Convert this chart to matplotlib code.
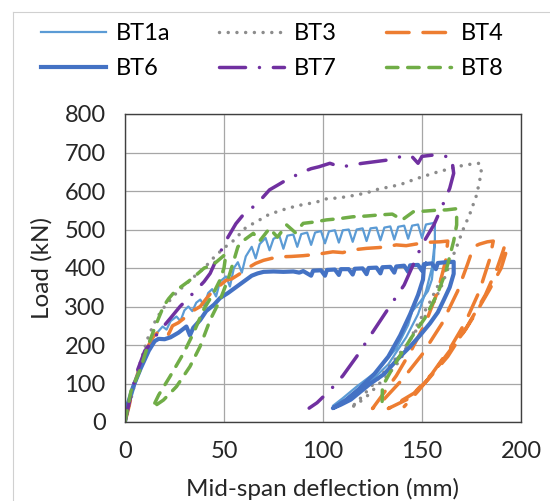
import matplotlib
matplotlib.use("Agg")
import matplotlib.pyplot as plt
from matplotlib.lines import Line2D

plt.rcParams['font.family'] = ['Lato', 'DejaVu Sans']

# ---- data (deflection mm, load kN) ----
bt1a_x = [0, 3, 7, 11, 15, 19, 21, 23, 26, 28, 30, 32, 34, 36, 38, 40, 42, 44, 46, 48, 51, 53, 55, 57, 59,
          61, 64, 66, 68, 71, 73, 75, 78, 80, 82, 85, 87, 89, 92, 94, 96, 99, 101, 103, 106, 108, 110, 113,
          115, 117, 120, 122, 124, 127, 129, 131, 134, 136, 138, 141, 143, 145, 148, 150, 152, 155, 156.5,
          156.5, 156, 155, 153, 149, 145, 143, 137, 127, 117, 110, 105,
          112, 122, 133, 142, 148, 152, 155, 156.5]
bt1a_y = [0, 60, 130, 190, 225, 248, 240, 262, 274, 262, 290, 300, 288, 310, 318, 302, 335, 345, 326, 365, 378,
          352, 400, 415, 388, 430, 455, 425, 462, 478, 446, 476, 483, 450, 484, 487, 455, 488, 492, 460, 492,
          496, 464, 495, 498, 466, 498, 500, 468, 500, 503, 470, 503, 505, 472, 505, 508, 474, 507, 510, 476,
          510, 513, 478, 513, 516, 518,
          470, 420, 370, 340, 312, 287, 252, 191, 131, 92, 62, 42,
          60, 95, 150, 220, 280, 340, 400, 470]

bt3_x = [0, 4, 8, 12, 16, 20, 25, 30, 35, 40, 45, 50, 55, 61, 67, 73, 78, 82, 90, 96, 102, 108, 115, 122,
         128, 135, 141, 146, 152, 157, 162, 167, 172, 179,
         180, 179, 177.6, 174, 171, 167.5, 164, 160, 155, 150, 143, 134, 125, 119, 114,
         118, 122, 132, 139, 147.6, 154, 159, 162, 164]
bt3_y = [0, 80, 160, 225, 270, 300, 330, 355, 378, 400, 428, 452, 472, 505, 522, 540, 548, 555, 565, 570, 580,
         582, 588, 595, 605, 612, 620, 630, 640, 648, 655, 662, 668, 672,
         650, 624, 590, 538, 503, 455, 410, 355, 300, 262, 205, 148, 96, 62, 36,
         50, 66, 118, 161, 252, 312, 364, 400, 430]

bt4_x = [0, 2, 4.2, 7, 9.3, 12, 14.3, 17, 19.4, 22, 24, 27, 31, 34, 38, 41, 44.6, 48, 51, 54, 58, 62, 66, 70,
         74, 78, 84, 90, 96, 100, 105, 110, 115, 122, 128, 132, 137, 142, 149, 154, 159, 163,
         162, 158, 152, 145, 137, 130, 125,
         131, 140, 150, 160, 168, 173, 176, 179, 183, 186,
         184, 179, 172, 164, 155, 146, 133,
         143, 153, 163, 173, 182, 188, 191, 192,
         193, 190, 184, 178, 172, 164, 156, 148, 141]
bt4_y = [0, 40, 92, 135, 170, 200, 222, 235, 239, 228, 250, 258, 274, 288, 300, 320, 342, 355, 368, 372, 385,
         400, 412, 420, 425, 429, 430, 432, 435, 438, 442, 440, 447, 451, 453, 455, 460, 458, 464, 467, 468, 470,
         420, 340, 260, 190, 120, 70, 35,
         60, 110, 175, 255, 340, 410, 455, 462, 468, 470,
         420, 340, 260, 190, 125, 75, 35,
         60, 110, 170, 250, 330, 400, 445, 462,
         450, 400, 343, 290, 240, 185, 130, 80, 40]

bt6_x = [0, 1, 4, 8, 12, 15, 17, 20, 23, 27, 31, 32.8, 34.5, 38, 41, 45, 48, 52, 56, 60, 64, 67, 70, 75, 80,
         85, 88, 90, 94, 95, 99, 101, 102, 106, 108, 109, 113, 115, 116, 120, 122, 123, 127, 129, 130, 134,
         136, 137, 141, 143, 144, 148, 150, 151, 155, 157, 158, 162, 166,
         166, 164, 161, 158, 154, 149, 144, 138, 131, 124, 119, 114, 109, 105,
         111, 118, 126, 133, 139, 144, 148, 150.5, 151, 152]
bt6_y = [0, 40, 90, 140, 185, 210, 216, 215, 220, 232, 248, 225, 245, 265, 288, 305, 322, 335, 350, 365, 380,
         386, 390, 391, 390, 391, 388, 392, 380, 393, 394, 380, 395, 396, 382, 397, 397, 383, 398, 399, 384,
         400, 401, 386, 402, 403, 388, 404, 406, 390, 407, 408, 393, 410, 412, 397, 413, 415, 416,
         385, 350, 317, 285, 256, 225, 196, 165, 125, 100, 79, 58, 45, 36,
         55, 85, 125, 170, 225, 280, 330, 370, 405, 411]

bt7_x = [0, 3, 6, 10, 14.3, 17, 19.4, 23, 27.8, 32, 36, 40, 43, 46, 48, 52, 56, 60, 64.8, 69, 73, 77, 81.6,
         86, 90, 94, 98, 103.5, 109, 115, 120, 126, 132, 137, 142, 145, 148, 150, 155, 159, 162.5, 165,
         166, 164, 161.6, 156, 150, 141, 132, 124, 117, 110, 104, 97, 93]
bt7_y = [0, 70, 130, 185, 213, 235, 248, 270, 300, 322, 343, 365, 386, 420, 440, 480, 515, 540, 559, 580, 603,
         615, 629, 640, 650, 658, 663, 672, 662, 668, 672, 676, 680, 686, 693, 689, 672, 690, 693, 689, 690, 686,
         646, 607, 577, 512, 460, 356, 287, 225, 170, 120, 85, 50, 36]

bt8_x = [0, 3, 7.6, 11, 14.3, 17, 19.4, 22, 25, 28, 32, 36, 40, 43, 46, 51,
         50, 48, 44.6, 39.6, 34.5, 29.5, 22.7, 17, 14,
         19.4, 26, 32.8, 37.9, 43, 48, 52, 55, 57, 60, 64.8, 68, 73, 77, 81.6, 86, 90, 95, 101.8, 108, 115, 122,
         128.8, 135, 140, 145.6, 152, 157, 162.5, 167.5,
         167.5, 166, 162, 158, 151.5, 145, 138, 133.5, 130, 129.8]
bt8_y = [0, 80, 135, 190, 235, 270, 300, 320, 338, 350, 365, 382, 400, 405, 415, 437,
         400, 369, 334, 291, 230, 178, 118, 70, 38,
         57, 92, 144, 196, 265, 317, 370, 420, 455, 472, 490, 470, 503, 480, 512, 492, 516, 519, 525, 528, 533,
         535, 538, 540, 525, 546, 548, 550, 551, 554,
         512, 470, 390, 335, 270, 222, 165, 125, 92, 35]

x_ticks = [0, 50, 100, 150, 200]
y_ticks = [0, 100, 200, 300, 400, 500, 600, 700, 800]

# ---- figure ----
fig = plt.figure(figsize=(5.5, 5.01), dpi=100)
ax = fig.add_axes([125 / 550, 79 / 501, 396 / 550, 308 / 501])

lw = 2.5
l1a, = ax.plot(bt1a_x, bt1a_y, color='#5B9BD5', lw=1.6, label='BT1a')
l3, = ax.plot(bt3_x, bt3_y, color='#8C8C8C', lw=lw, linestyle=(0, (0.01, 2.5)),
              dash_capstyle='round', label='BT3')
l4, = ax.plot(bt4_x, bt4_y, color='#ED7D31', lw=lw, linestyle=(0, (6.5, 4)),
              dash_capstyle='round', label='BT4')
l6, = ax.plot(bt6_x, bt6_y, color='#4472C4', lw=3.0, label='BT6')
l7, = ax.plot(bt7_x, bt7_y, color='#7030A0', lw=lw, linestyle=(0, (7.5, 4, 0.01, 4)),
              dash_capstyle='round', label='BT7')
l8, = ax.plot(bt8_x, bt8_y, color='#70AD47', lw=lw, linestyle=(0, (3.3, 2.8)),
              dash_capstyle='round', label='BT8')

ax.set_xlim(0, 200)
ax.set_ylim(0, 800)
ax.set_xticks(x_ticks)
ax.set_yticks(y_ticks)
ax.tick_params(length=0, labelsize=17, colors='#262626', pad=14)
ax.grid(True, color='#A6A6A6', lw=0.9)
ax.set_axisbelow(True)
for s in ax.spines.values():
    s.set_color('#404040')
    s.set_linewidth(1.0)

ax.set_xlabel('Mid-span deflection (mm)', fontsize=17.5, color='#262626')
ax.set_ylabel('Load (kN)', fontsize=17.5, color='#262626')
ax.xaxis.set_label_coords(0.5, (422 - 489) / 308)
ax.xaxis.label.set_va('center')
ax.yaxis.set_label_coords((42 - 125) / 396, 0.5)
ax.yaxis.label.set_va('center')

# legend: two rows of three, above the plot (matplotlib fills column by column)
handles = [l1a, l6, l3, l7, l4, l8]
fig.legend(handles, [h.get_label() for h in handles], ncol=3, loc='upper left',
           bbox_to_anchor=(41 / 550, 1 - 23 / 501),
           frameon=False, fontsize=17, handlelength=2.75, handletextpad=0.4,
           columnspacing=2.1, labelspacing=0.6, borderpad=0, borderaxespad=0)

# thin chart-area border (cut off at right and bottom)
fig.add_artist(Line2D([13 / 550, 13 / 550], [0, 1 - 12 / 501], transform=fig.transFigure,
                      color='#D0D0D0', lw=0.8))
fig.add_artist(Line2D([13 / 550, 1], [1 - 12 / 501, 1 - 12 / 501], transform=fig.transFigure,
                      color='#D0D0D0', lw=0.8))

fig.savefig('out.png', dpi=100, facecolor='white')
